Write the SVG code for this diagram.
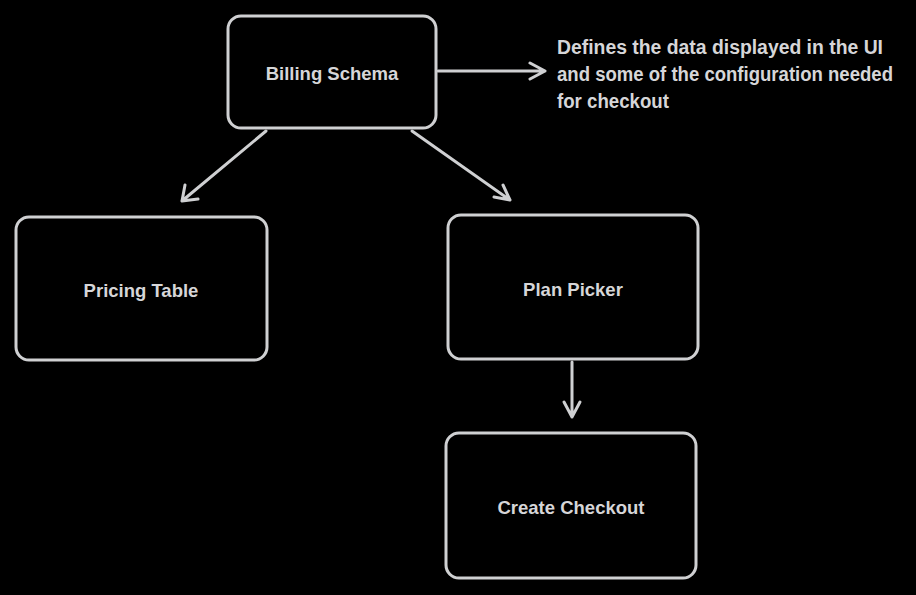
<svg xmlns="http://www.w3.org/2000/svg" width="916" height="595" viewBox="0 0 916 595">
<defs>
<style>
.box{fill:#000;stroke:#cfd0d2;stroke-width:3;stroke-linejoin:round}
.lbl{fill:#d6d6d8;font-family:"Liberation Sans",Arial,sans-serif;font-weight:700;font-size:18.5px;text-anchor:middle}
.note{fill:#d6d6d8;font-family:"Liberation Sans",Arial,sans-serif;font-weight:700;font-size:19.5px}
.edge{fill:none;stroke:#cfd0d2;stroke-width:3;stroke-linecap:round;stroke-linejoin:round}
</style>
</defs>
<rect width="916" height="595" fill="#000"/>
<g id="billing-schema">
<rect class="box" x="228" y="16" width="208" height="112" rx="13"/>
<text class="lbl" x="332" y="80">Billing Schema</text>
</g>
<g id="pricing-table">
<rect class="box" x="16" y="217" width="251" height="143" rx="13"/>
<text class="lbl" x="141" y="297">Pricing Table</text>
</g>
<g id="plan-picker">
<rect class="box" x="448" y="215" width="250" height="144" rx="13"/>
<text class="lbl" x="573" y="296">Plan Picker</text>
</g>
<g id="create-checkout">
<rect class="box" x="446" y="433" width="250" height="145" rx="13"/>
<text class="lbl" x="571" y="514">Create Checkout</text>
</g>
<g id="note">
<text class="note" x="557" y="54" textLength="326" lengthAdjust="spacingAndGlyphs">Defines the data displayed in the UI</text>
<text class="note" x="557" y="81" textLength="336" lengthAdjust="spacingAndGlyphs">and some of the configuration needed</text>
<text class="note" x="557" y="108" textLength="112" lengthAdjust="spacingAndGlyphs">for checkout</text>
</g>
<g id="connectors">
<path class="edge" d="M438 71 L545 71 M530 63 L545 71 L530 79"/>
<path class="edge" d="M266 131 L182 201 M185 185 L182 201 L198 199"/>
<path class="edge" d="M412 131 L510 200 M494 197 L510 200 L503 185"/>
<path class="edge" d="M572 362 L572 417 M564 402 L572 417 L580 402"/>
</g>
</svg>
